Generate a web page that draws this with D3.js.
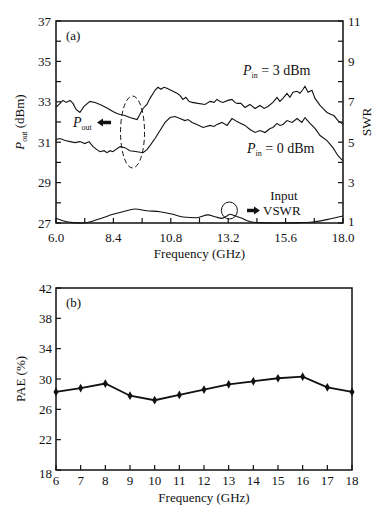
<!DOCTYPE html>
<html lang="en">
  <head>
    <meta charset="utf-8">
    <title>Pout / VSWR / PAE vs frequency</title>
    <style>
      body { margin: 0; background: #fff; }
      text { font-family: "Liberation Serif", "DejaVu Serif", serif; fill: #111; }
    </style>
  </head>
  <body>
<script src="https://d3js.org/d3.v7.min.js"></script>
<script>
// ---- data ----
var freqP3 = [6.00,6.17,6.29,6.42,6.59,6.71,6.84,7.00,7.17,7.42,7.63,7.84,8.01,8.17,8.38,8.55,8.68,8.88,9.09,9.39,
  9.64,9.80,9.93,10.14,10.26,10.39,10.51,10.64,10.89,11.06,11.18,11.31,11.43,11.56,11.69,11.94,12.23,12.44,12.61,12.73,
  12.86,12.98,13.19,13.36,13.48,13.57,13.73,13.90,14.11,14.32,14.53,14.70,14.86,15.07,15.24,15.36,15.49,15.66,15.78,15.91,
  16.08,16.20,16.33,16.41,16.54,16.70,16.83,17.04,17.20,17.33,17.50,17.62,17.79,18.00];
var pout3 = [32.72,32.92,33.07,32.97,33.07,32.92,32.62,32.47,32.77,33.02,32.97,32.87,32.77,32.67,32.52,32.42,32.37,32.32,32.22,32.12,
  32.67,32.87,33.17,33.57,33.72,33.62,33.72,33.67,33.52,33.42,33.32,33.12,33.22,33.02,32.97,32.92,32.87,33.02,32.97,33.12,
  33.02,32.97,33.07,33.12,32.97,32.92,32.92,32.72,32.87,32.67,32.82,32.67,32.77,32.97,33.22,33.02,33.17,33.42,33.22,33.47,
  33.52,33.42,33.62,33.77,33.47,33.57,33.17,32.82,32.62,32.47,32.37,32.32,32.07,31.88];

var freqP0 = [6.00,6.17,6.38,6.59,6.79,7.00,7.21,7.38,7.55,7.71,7.84,8.01,8.13,8.26,8.38,8.55,8.68,8.88,9.09,9.39,
  9.64,9.80,9.93,10.14,10.35,10.56,10.77,10.98,11.18,11.39,11.52,11.69,11.89,12.15,12.44,12.61,12.73,12.94,13.15,13.36,
  13.57,13.73,13.90,14.11,14.32,14.53,14.74,14.95,15.07,15.24,15.36,15.49,15.66,15.87,16.08,16.28,16.41,16.62,16.83,17.04,
  17.33,17.58,17.79,18.00];
var pout0 = [31.13,31.18,31.08,31.03,30.98,31.03,30.93,31.03,30.78,30.63,30.53,30.58,30.48,30.58,30.53,30.68,30.78,30.73,30.58,30.53,
  30.48,30.63,30.83,31.18,31.58,31.98,32.22,32.27,32.17,32.07,32.12,31.98,31.88,31.73,31.83,31.78,31.88,31.98,31.83,32.17,
  32.02,31.93,31.83,31.63,31.48,31.58,31.48,31.68,31.73,31.93,31.83,31.88,32.07,31.98,32.17,31.98,32.22,31.93,31.68,31.33,
  31.08,30.73,30.33,30.08];

var freqVswr = [6.00,6.29,6.71,7.13,7.55,7.96,8.38,8.80,9.30,9.80,10.35,10.89,11.31,11.89,12.35,12.65,12.94,13.15,13.27,13.48,
  13.78,14.03,14.45,15.28,16.28,16.83,17.37,18.00];
var vswr = [1.23,1.11,1.02,1.00,1.10,1.26,1.43,1.56,1.69,1.61,1.56,1.43,1.30,1.26,1.40,1.31,1.23,1.35,1.43,1.36,
  1.23,1.10,1.02,1.00,1.02,1.06,1.18,1.35];

var freqPae = [6,7,8,9,10,11,12,13,14,15,16,17,18];
var pae = [28.3,28.8,29.4,27.8,27.2,27.9,28.6,29.3,29.7,30.1,30.3,28.9,28.3];

var ticksA = [6.0,8.4,10.8,13.2,15.6,18.0];
var minorA = [7.2,9.6,12.0,14.4,16.8];
var ticksPout = [27,29,31,33,35,37];
var minorPout = [28,30,32,34,36];
var ticksSwr = [1,3,5,7,9,11];
var minorSwr = [2,4,6,8,10];
var ticksPae = [18,22,26,30,34,38,42];

var svg = d3.select('body').append('svg')
  .attr('width', 378)
  .attr('height', 513);

// ---------- panel (a) ----------
var a = {left: 56, right: 343, top: 21, bottom: 223};
var xa = d3.scaleLinear().domain([6, 18]).range([a.left, a.right]);
var ya = d3.scaleLinear().domain([27, 37]).range([a.bottom, a.top]);
var ys = d3.scaleLinear().domain([1, 11]).range([a.bottom, a.top]);

var ga = svg.append('g');

// inward ticks
ga.selectAll('.tl').data(ticksPout.concat(minorPout)).enter().append('line')
  .attr('x1', a.left).attr('x2', a.left + 5)
  .attr('y1', d => ya(d)).attr('y2', d => ya(d))
  .attr('stroke', '#111').attr('stroke-width', 1.2);
ga.selectAll('.tr').data(ticksSwr.concat(minorSwr)).enter().append('line')
  .attr('x1', a.right).attr('x2', a.right - 5)
  .attr('y1', d => ys(d)).attr('y2', d => ys(d))
  .attr('stroke', '#111').attr('stroke-width', 1.2);
ga.selectAll('.tb').data(ticksA.concat(minorA)).enter().append('line')
  .attr('x1', d => xa(d)).attr('x2', d => xa(d))
  .attr('y1', a.bottom).attr('y2', a.bottom - 5)
  .attr('stroke', '#111').attr('stroke-width', 1.2);

// tick labels
ga.selectAll('.ll').data(ticksPout).enter().append('text')
  .attr('x', a.left - 5).attr('y', d => ya(d) + 4.5)
  .attr('text-anchor', 'end').style('font-size', '13px').text(d => d);
ga.selectAll('.rl').data(ticksSwr).enter().append('text')
  .attr('x', a.right + 5).attr('y', d => ys(d) + (d === 1 ? 2.5 : 4.5))
  .style('font-size', '13px').text(d => d);
ga.selectAll('.bl').data(ticksA).enter().append('text')
  .attr('x', d => xa(d)).attr('y', a.bottom + 19)
  .attr('text-anchor', 'middle').style('font-size', '13px').text(d => d.toFixed(1));

// curves
var lineP = d3.line().x(d => xa(d[0])).y(d => ya(d[1]));
var lineS = d3.line().x(d => xa(d[0])).y(d => ys(d[1])).curve(d3.curveMonotoneX);
ga.append('path').datum(d3.zip(freqP3, pout3)).attr('d', lineP)
  .attr('fill', 'none').attr('stroke', '#111').attr('stroke-width', 1.1);
ga.append('path').datum(d3.zip(freqP0, pout0)).attr('d', lineP)
  .attr('fill', 'none').attr('stroke', '#111').attr('stroke-width', 1.1);
ga.append('path').datum(d3.zip(freqVswr, vswr)).attr('d', lineS)
  .attr('fill', 'none').attr('stroke', '#111').attr('stroke-width', 1.1);

// frame
ga.append('rect').attr('x', a.left).attr('y', a.top)
  .attr('width', a.right - a.left).attr('height', a.bottom - a.top)
  .attr('fill', 'none').attr('stroke', '#111').attr('stroke-width', 1.5);

// annotations
ga.append('text').attr('x', 66).attr('y', 40).style('font-size', '13px').text('(a)');

function pLabel(g, x, y, sub, rest) {
  var t = g.append('text').attr('x', x).attr('y', y).style('font-size', '14px');
  t.append('tspan').style('font-style', 'italic').text('P');
  t.append('tspan').attr('dy', 3).style('font-size', '8px').text(sub);
  if (rest) t.append('tspan').attr('dy', -3).text(rest);
}
pLabel(ga, 243, 75, 'in', ' = 3 dBm');
pLabel(ga, 247, 153, 'in', ' = 0 dBm');
pLabel(ga, 73, 127, 'out', null);

// dashed ellipse around the Pout curves
ga.append('ellipse').attr('cx', xa(9.2)).attr('cy', 132).attr('rx', 12).attr('ry', 36)
  .attr('fill', 'none').attr('stroke', '#111').attr('stroke-width', 1).attr('stroke-dasharray', '5,3');
// small circle on VSWR
ga.append('ellipse').attr('cx', xa(13.25)).attr('cy', 210.5).attr('rx', 8).attr('ry', 8.5)
  .attr('fill', 'none').attr('stroke', '#111').attr('stroke-width', 1);

// arrows
function arrow(g, x1, x2, y) {
  var dir = x2 > x1 ? 1 : -1;
  g.append('line').attr('x1', x1).attr('x2', x2 - dir * 4).attr('y1', y).attr('y2', y)
    .attr('stroke', '#111').attr('stroke-width', 3.5);
  g.append('path')
    .attr('d', 'M' + x2 + ',' + y + 'L' + (x2 - dir * 6) + ',' + (y - 4) + 'L' + (x2 - dir * 6) + ',' + (y + 4) + 'Z')
    .attr('fill', '#111');
}
arrow(ga, 111, 97, 122.5);
arrow(ga, 247, 260, 210.5);

ga.append('text').attr('x', 284).attr('y', 200).attr('text-anchor', 'middle')
  .style('font-size', '13px').text('Input');
ga.append('text').attr('x', 263).attr('y', 215).style('font-size', '13px').text('VSWR');

// axis titles
var yt = ga.append('text').attr('transform', 'translate(24,' + ((a.top + a.bottom) / 2) + ') rotate(-90)')
  .attr('text-anchor', 'middle').style('font-size', '13px');
yt.append('tspan').style('font-style', 'italic').text('P');
yt.append('tspan').attr('dy', 3).style('font-size', '8px').text('out');
yt.append('tspan').attr('dy', -3).text(' (dBm)');
ga.append('text').attr('transform', 'translate(371,' + ((a.top + a.bottom) / 2) + ') rotate(-90)')
  .attr('text-anchor', 'middle').style('font-size', '13px').text('SWR');
ga.append('text').attr('x', (a.left + a.right) / 2).attr('y', 258)
  .attr('text-anchor', 'middle').style('font-size', '13px').text('Frequency (GHz)');

// ---------- panel (b) ----------
var b = {left: 56, right: 352, top: 288, bottom: 470};
var xb = d3.scaleLinear().domain([6, 18]).range([b.left, b.right]);
var yb = d3.scaleLinear().domain([18, 42]).range([b.bottom, b.top]);
var gb = svg.append('g');

gb.selectAll('.tl').data(ticksPae).enter().append('line')
  .attr('x1', b.left).attr('x2', b.left + 5)
  .attr('y1', d => yb(d)).attr('y2', d => yb(d))
  .attr('stroke', '#111').attr('stroke-width', 1.2);
gb.selectAll('.tb').data(freqPae).enter().append('line')
  .attr('x1', d => xb(d)).attr('x2', d => xb(d))
  .attr('y1', b.bottom).attr('y2', b.bottom - 5)
  .attr('stroke', '#111').attr('stroke-width', 1.2);

gb.selectAll('.ll').data(ticksPae).enter().append('text')
  .attr('x', b.left - 4).attr('y', d => yb(d) + 4.5 + (d === 18 ? 3 : 0))
  .attr('text-anchor', 'end').style('font-size', '13px').text(d => d);
gb.selectAll('.bl').data(freqPae).enter().append('text')
  .attr('x', d => xb(d)).attr('y', b.bottom + 15)
  .attr('text-anchor', 'middle').style('font-size', '13px').text(d => d);

var lineB = d3.line().x(d => xb(d[0])).y(d => yb(d[1]));
gb.append('path').datum(d3.zip(freqPae, pae)).attr('d', lineB)
  .attr('fill', 'none').attr('stroke', '#111').attr('stroke-width', 1.8);
gb.selectAll('.pt').data(d3.zip(freqPae, pae)).enter().append('path')
  .attr('d', d3.symbol().type(d3.symbolDiamond).size(22))
  .attr('transform', d => 'translate(' + xb(d[0]) + ',' + yb(d[1]) + ')')
  .attr('fill', '#111');

gb.append('rect').attr('x', b.left).attr('y', b.top)
  .attr('width', b.right - b.left).attr('height', b.bottom - b.top)
  .attr('fill', 'none').attr('stroke', '#111').attr('stroke-width', 1.5);

gb.append('text').attr('x', 66).attr('y', 307).style('font-size', '13px').text('(b)');
gb.append('text').attr('transform', 'translate(25,' + ((b.top + b.bottom) / 2) + ') rotate(-90)')
  .attr('text-anchor', 'middle').style('font-size', '13px').text('PAE (%)');
gb.append('text').attr('x', 204).attr('y', 502)
  .attr('text-anchor', 'middle').style('font-size', '13px').text('Frequency (GHz)');
</script>
  </body>
</html>
